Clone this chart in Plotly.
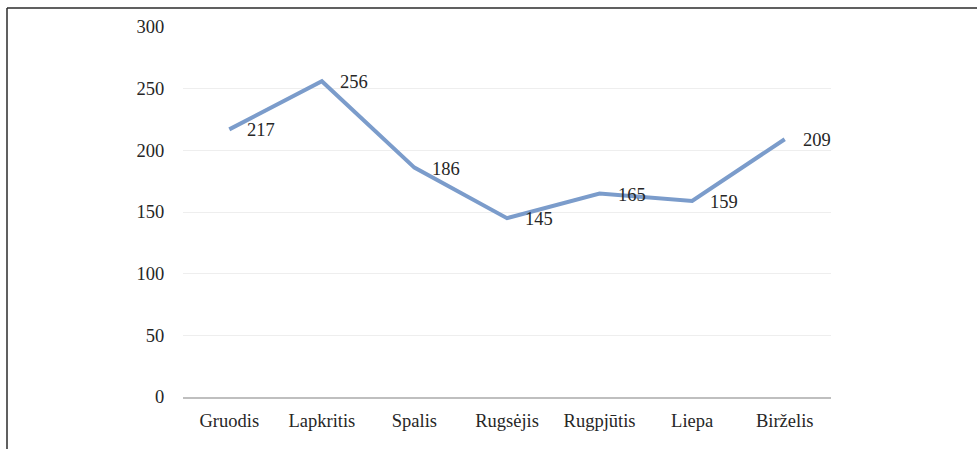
import plotly.graph_objects as go

months = ["Gruodis", "Lapkritis", "Spalis", "Rugsėjis", "Rugpjūtis", "Liepa", "Birželis"]
values = [217, 256, 186, 145, 165, 159, 209]
y_ticks = [0, 50, 100, 150, 200, 250, 300]

W, H = 977, 449
L, R, T, B = 183, 146, 27, 52
pw, ph = W - L - R, H - T - B

font_family = "Liberation Serif, Times New Roman, serif"
fs = 18.5
text_color = "#262626"

fig = go.Figure()
fig.add_trace(go.Scatter(
    x=months, y=values, mode="lines",
    line=dict(color="#7b9ccb", width=4),
    showlegend=False, hoverinfo="x+y",
))

for m, v in zip(months, values):
    fig.add_annotation(
        x=m, y=v, text=str(v), showarrow=False,
        xanchor="left", yanchor="middle", xshift=16, yshift=-1,
        font=dict(family=font_family, size=fs, color=text_color),
    )

fig.update_layout(
    width=W, height=H,
    margin=dict(l=L, r=R, t=T, b=B),
    paper_bgcolor="white", plot_bgcolor="white",
    font=dict(family=font_family, size=fs, color=text_color),
    xaxis=dict(
        type="category", range=[-0.5, 6.5],
        showgrid=False, showline=True, linecolor="#bfbfbf", linewidth=2,
        ticks="outside", ticklen=6, tickcolor="rgba(0,0,0,0)",
        tickfont=dict(family=font_family, size=fs, color=text_color),
        fixedrange=True,
    ),
    yaxis=dict(
        range=[0, 300], tickvals=y_ticks,
        showgrid=True, gridcolor="#eeeeee", gridwidth=1,
        zeroline=False, showline=False,
        ticks="outside", ticklen=14, tickcolor="rgba(0,0,0,0)",
        tickfont=dict(family=font_family, size=fs, color=text_color),
        fixedrange=True,
    ),
)

# outer frame (left and top edges visible in the reference)
x_left = (7 - L) / pw
y_top = 1 + (T - 8) / ph
fig.add_shape(type="line", xref="paper", yref="paper",
              x0=x_left, x1=(W + 5 - L) / pw, y0=y_top, y1=y_top,
              line=dict(color="#2b2b2b", width=1.5))
fig.add_shape(type="line", xref="paper", yref="paper",
              x0=x_left, x1=x_left, y0=y_top, y1=-(B + 5) / ph,
              line=dict(color="#2b2b2b", width=1.5))

fig.write_html("out.html", config={"displayModeBar": False},
               post_script="document.body.style.margin='0';")
